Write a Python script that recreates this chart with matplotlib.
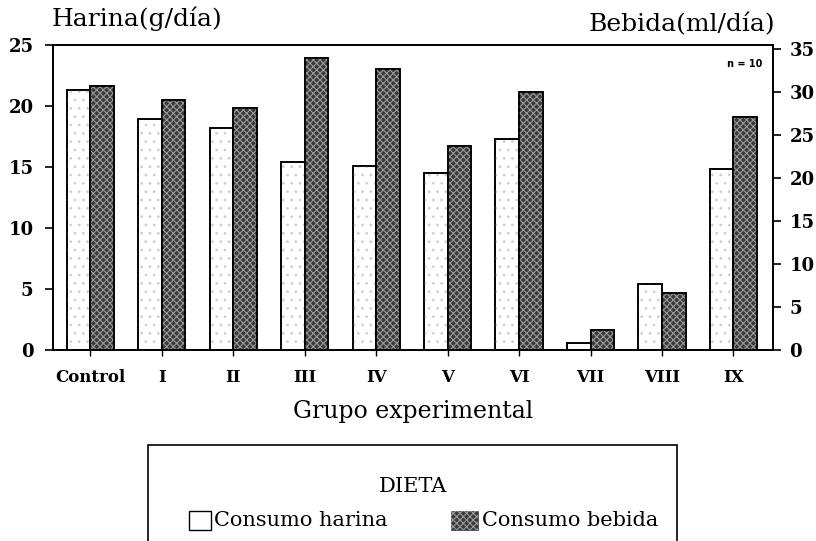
import numpy as np
import matplotlib
matplotlib.use("Agg")
import matplotlib.pyplot as plt
from matplotlib.patches import Rectangle

grupos = ["Control", "I", "II", "III", "IV", "V", "VI", "VII", "VIII", "IX"]
harina = [21.3, 18.9, 18.2, 15.4, 15.1, 14.5, 17.3, 0.6, 5.4, 14.8]      # g/dia
bebida = [30.7, 29.1, 28.2, 34.0, 32.7, 23.7, 30.0, 2.3, 6.6, 27.1]      # ml/dia
ticks_harina = [0, 5, 10, 15, 20, 25]
ticks_bebida = [0, 5, 10, 15, 20, 25, 30, 35]

plt.rcParams['font.family'] = ['DejaVu Serif']
plt.rcParams['hatch.linewidth'] = 0.8

fig = plt.figure(figsize=(8.16, 5.41), dpi=100)
ax = fig.add_axes([0.065, 0.353, 0.882, 0.564])
ax2 = ax.twinx()

x = np.arange(len(grupos))
w = 0.33

# harina: white bars with faint stipple
ax.bar(x - w / 2, harina, w, facecolor="white", edgecolor="black", linewidth=1.2)
ax.bar(x - w / 2, harina, w, facecolor="none", edgecolor="#d0d0d0", hatch="..", linewidth=0)
ax.bar(x - w / 2, harina, w, facecolor="none", edgecolor="black", linewidth=1.2)

# bebida: dark checkered bars on right axis
ax2.bar(x + w / 2, bebida, w, facecolor="#3a3a3a", edgecolor="black", linewidth=1.2)
ax2.bar(x + w / 2, bebida, w, facecolor="none", edgecolor="#9a9a9a", hatch="xxxxx", linewidth=0)
ax2.bar(x + w / 2, bebida, w, facecolor="none", edgecolor="black", linewidth=1.2)

ax.set_xlim(-0.52, 9.55)
ax.set_ylim(0, 25)
ax2.set_ylim(0, 35.5)

ax.set_yticks(ticks_harina)
ax.set_yticklabels([str(t) for t in ticks_harina], fontsize=13, fontweight="bold")
ax2.set_yticks(ticks_bebida)
ax2.set_yticklabels([str(t) for t in ticks_bebida], fontsize=13, fontweight="bold")
ax.set_xticks(x)
ax.set_xticklabels(grupos, fontsize=12, fontweight="bold")

ax.tick_params(axis="y", direction="out", length=6, width=1.2, pad=8)
ax2.tick_params(axis="y", direction="out", length=6, width=1.2, pad=6)
ax.tick_params(axis="x", direction="out", length=4, width=1.0, pad=10)
for a in (ax, ax2):
    for s in a.spines.values():
        s.set_linewidth(1.3)

ax.set_xlabel("Grupo experimental", fontsize=17, labelpad=10)
fig.text(0.063, 0.943, "Harina(g/día)", fontsize=18, ha="left", va="bottom")
fig.text(0.950, 0.933, "Bebida(ml/día)", fontsize=18, ha="right", va="bottom")
ax.text(0.985, 0.955, "n = 10", transform=ax.transAxes, fontsize=7,
        fontweight="bold", ha="right", va="top", family="DejaVu Sans")

# legend box (bottom edge falls outside the figure)
fig.patches.append(Rectangle((148 / 816, -0.05), (677 - 148) / 816, (541 - 445) / 541 + 0.05,
                             transform=fig.transFigure, facecolor="none",
                             edgecolor="black", linewidth=1.2))
fig.text(413 / 816, 1 - 486 / 541, "DIETA", fontsize=15, ha="center", va="center")
fig.patches.append(Rectangle((189 / 816, 1 - 530 / 541), 22 / 816, 19 / 541,
                             transform=fig.transFigure, facecolor="white",
                             edgecolor="black", linewidth=1.0))
fig.patches.append(Rectangle((451 / 816, 1 - 530 / 541), 27 / 816, 19 / 541,
                             transform=fig.transFigure, facecolor="#3a3a3a",
                             edgecolor="#3a3a3a", linewidth=0.5))
fig.patches.append(Rectangle((451 / 816, 1 - 530 / 541), 27 / 816, 19 / 541,
                             transform=fig.transFigure, facecolor="none",
                             edgecolor="#9a9a9a", hatch="xxxxx", linewidth=0))
fig.text(214 / 816, 1 - 520 / 541, "Consumo harina", fontsize=15, ha="left", va="center")
fig.text(482 / 816, 1 - 520 / 541, "Consumo bebida", fontsize=15, ha="left", va="center")

fig.savefig("out.png", dpi=100)
